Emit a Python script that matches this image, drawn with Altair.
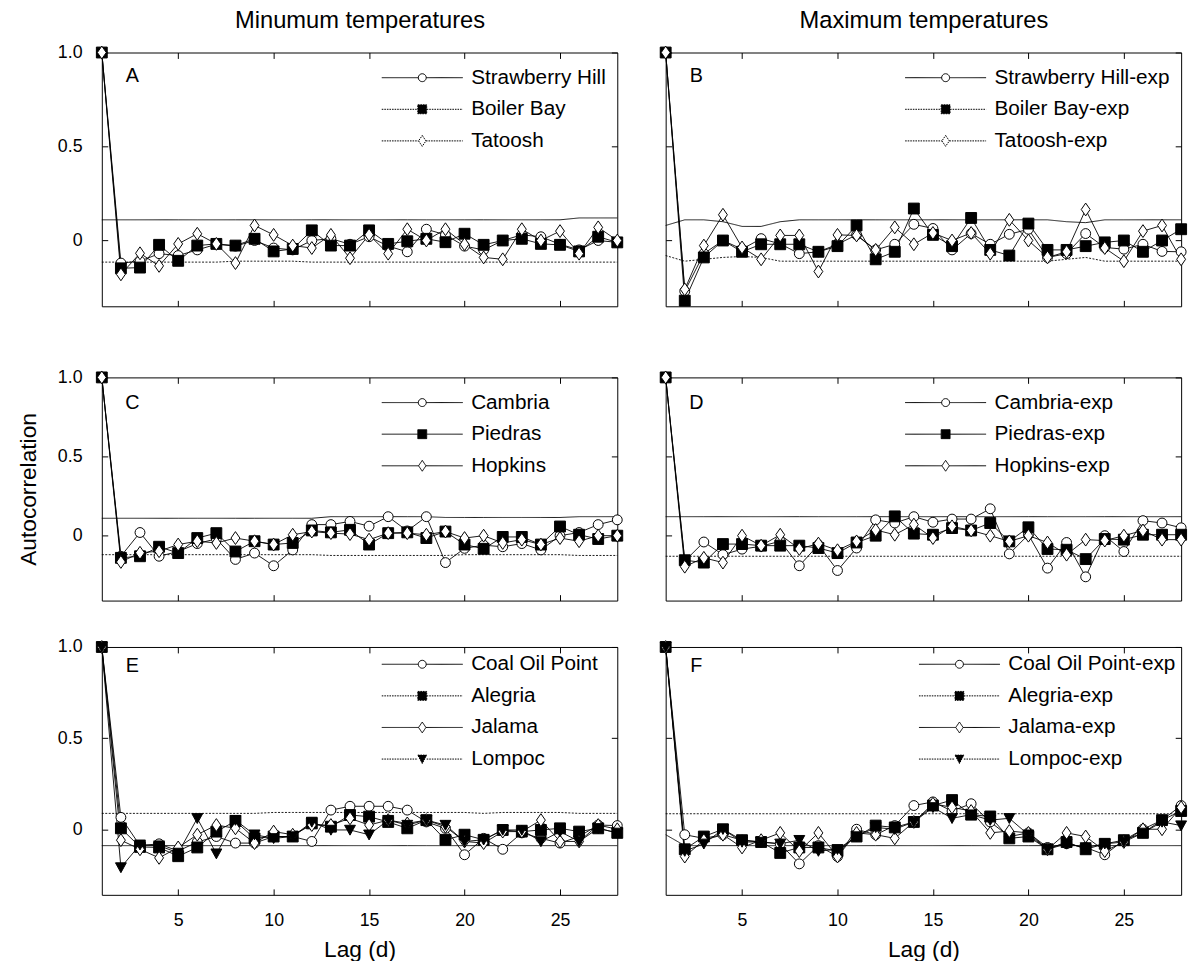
import altair as alt
import pandas as pd

FONT = "Liberation Sans"

LAGS = list(range(1, 29))
X_TICKS = [5, 10, 15, 20, 25]
Y_TICKS = [0, 0.5, 1.0]

COLUMN_TITLES = ["Minumum temperatures", "Maximum temperatures"]
Y_TITLE = "Autocorrelation"
X_TITLE = "Lag (d)"

# ---------------- Panel A : minimum temperatures, Oregon/Washington
A_NAMES = ["Strawberry Hill", "Boiler Bay", "Tatoosh"]
A_STRAWBERRY = [1.0, -0.12, -0.11, -0.07, -0.08, -0.05, -0.02, -0.03, 0.0, -0.04, -0.05, 0.0, 0.01, -0.02,
                0.02, -0.03, -0.06, 0.06, 0.03, -0.03, -0.05, 0.0, 0.03, 0.02, -0.02, -0.05, 0.0, -0.01]
A_BOILER = [1.0, -0.148, -0.144, -0.023, -0.108, -0.027, -0.018, -0.027, 0.009, -0.058, -0.045, 0.054, -0.027, -0.027,
            0.054, -0.018, -0.004, 0.009, -0.009, 0.036, -0.023, 0.0, 0.009, -0.018, -0.023, -0.058, 0.02, -0.01]
A_TATOOSH = [1.0, -0.18, -0.068, -0.135, -0.018, 0.036, -0.018, -0.12, 0.08, 0.03, -0.027, -0.04, 0.03, -0.094,
             0.03, -0.07, 0.06, 0.0, 0.06, -0.02, -0.09, -0.1, 0.06, 0.0, 0.05, -0.07, 0.07, 0.0]
A_UPPER = [0.11] * 25 + [0.12] * 3
A_LOWER = [-0.115] * 7 + [-0.11] * 4 + [-0.115] * 17

# ---------------- Panel B : maximum temperatures
B_NAMES = ["Strawberry Hill-exp", "Boiler Bay-exp", "Tatoosh-exp"]
B_STRAWBERRY = [1.0, -0.27, -0.07, 0.0, -0.046, 0.01, -0.018, -0.07, -0.06, -0.02, 0.03, -0.05, -0.02, 0.086,
                0.064, -0.05, 0.037, -0.02, 0.033, 0.06, -0.09, -0.07, 0.037, -0.037, -0.046, -0.02, -0.058, -0.06]
B_BOILER = [1.0, -0.32, -0.09, 0.0, -0.06, -0.02, -0.02, -0.02, -0.06, -0.03, 0.08, -0.10, -0.06, 0.17,
            0.03, -0.03, 0.12, -0.05, -0.08, 0.09, -0.05, -0.05, -0.03, -0.01, 0.0, -0.06, 0.0, 0.06]
B_TATOOSH = [1.0, -0.26, -0.027, 0.137, -0.037, -0.10, 0.027, 0.027, -0.165, 0.03, 0.027, -0.05, 0.07, -0.02,
             0.04, 0.0, 0.04, -0.07, 0.11, 0.0, -0.09, -0.06, 0.165, -0.04, -0.11, 0.05, 0.08, -0.10]
B_UPPER = [0.08, 0.11, 0.11, 0.10, 0.075, 0.075, 0.10] + [0.11] * 14 + [0.10, 0.095] + [0.11] * 5
B_LOWER = [-0.08, -0.11, -0.10, -0.09, -0.085, -0.09] + [-0.11] * 15 + [-0.10, -0.09] + [-0.11] * 5

# ---------------- Panel C : minimum temperatures, central California
C_NAMES = ["Cambria", "Piedras", "Hopkins"]
C_CAMBRIA = [1.0, -0.13, 0.02, -0.13, -0.10, -0.05, -0.02, -0.15, -0.11, -0.19, -0.09, 0.07, 0.07, 0.09,
             0.06, 0.12, 0.03, 0.12, -0.17, -0.08, -0.06, -0.07, -0.05, -0.09, 0.0, 0.02, 0.07, 0.10]
C_PIEDRAS = [1.0, -0.14, -0.13, -0.07, -0.11, -0.015, 0.016, -0.10, -0.035, -0.056, -0.046, 0.033, 0.021, 0.037,
             -0.056, 0.016, 0.021, -0.015, 0.026, -0.056, -0.083, -0.008, -0.008, -0.056, 0.058, 0.006, -0.021, 0.0]
C_HOPKINS = [1.0, -0.166, -0.108, -0.098, -0.056, -0.035, -0.046, -0.015, -0.035, -0.056, 0.006, 0.026, 0.016, 0.01,
             -0.025, 0.016, 0.016, 0.006, 0.026, -0.015, 0.0, -0.046, -0.025, -0.056, -0.015, -0.035, 0.0, 0.0]
C_UPPER = [0.11] * 12 + [0.12] * 6 + [0.115] * 7 + [0.12] * 3
C_LOWER = [-0.12] * 12 + [-0.125] * 7 + [-0.12] * 6 + [-0.125] * 3

# ---------------- Panel D : maximum temperatures
D_NAMES = ["Cambria-exp", "Piedras-exp", "Hopkins-exp"]
D_CAMBRIA = [1.0, -0.16, -0.04, -0.12, -0.085, -0.067, -0.035, -0.19, -0.058, -0.22, -0.078, 0.10, 0.08, 0.12,
             0.085, 0.105, 0.105, 0.17, -0.115, 0.006, -0.205, -0.043, -0.26, 0.0, -0.10, 0.095, 0.08, 0.05]
D_PIEDRAS = [1.0, -0.155, -0.17, -0.053, -0.053, -0.063, -0.063, -0.063, -0.078, -0.11, -0.043, 0.0, 0.122, 0.013,
             0.006, 0.048, 0.033, 0.08, -0.036, 0.053, -0.084, -0.089, -0.148, -0.021, -0.025, 0.006, 0.006, 0.006]
D_HOPKINS = [1.0, -0.196, -0.14, -0.17, 0.0, -0.063, 0.006, -0.084, -0.05, -0.092, -0.036, 0.036, 0.006, 0.07,
             -0.015, 0.059, 0.033, 0.0, -0.036, 0.0, -0.043, -0.12, -0.025, -0.031, 0.0, 0.033, -0.025, -0.025]
D_UPPER = [0.12] * 28
D_LOWER = [-0.13] * 28

# ---------------- Panel E : minimum temperatures, southern California
E_NAMES = ["Coal Oil Point", "Alegria", "Jalama", "Lompoc"]
E_COAL = [1.0, 0.065, -0.09, -0.08, -0.12, -0.07, -0.04, -0.076, -0.076, -0.04, -0.04, -0.067, 0.105, 0.126,
          0.126, 0.126, 0.105, 0.04, 0.005, -0.14, -0.05, -0.11, -0.02, -0.05, -0.076, -0.04, 0.023, 0.02]
E_ALEGRIA = [1.0, 0.005, -0.097, -0.10, -0.148, -0.10, -0.013, 0.045, -0.05, -0.04, -0.04, 0.032, 0.014, 0.078,
             0.069, 0.04, 0.005, 0.05, -0.058, -0.03, -0.058, -0.004, -0.013, -0.004, 0.005, -0.013, 0.005, -0.02]
E_JALAMA = [1.0, -0.06, -0.11, -0.157, -0.10, -0.03, 0.023, 0.005, -0.076, -0.013, -0.03, 0.023, 0.023, 0.06,
            0.023, 0.05, 0.032, 0.05, 0.014, -0.067, -0.076, -0.013, -0.013, 0.05, -0.067, -0.067, 0.023, 0.0]
E_LOMPOC = [1.0, -0.21, -0.085, -0.09, -0.13, 0.06, -0.134, 0.05, -0.03, -0.05, -0.04, 0.04, -0.004, -0.004,
            -0.03, 0.05, 0.023, 0.05, 0.023, -0.067, -0.058, -0.004, -0.004, -0.067, -0.013, -0.067, 0.005, -0.02]
E_UPPER = [0.087] * 9 + [0.092] * 11 + [0.087] + [0.092] * 4 + [0.087] * 3
E_LOWER = [-0.09] * 28

# ---------------- Panel F : maximum temperatures
F_NAMES = ["Coal Oil Point-exp", "Alegria-exp", "Jalama-exp", "Lompoc-exp"]
F_COAL = [1.0, -0.03, -0.05, -0.03, -0.06, -0.07, -0.08, -0.19, -0.09, -0.15, 0.0, -0.03, 0.02, 0.13,
          0.15, 0.10, 0.14, 0.04, -0.04, -0.02, -0.10, -0.08, -0.10, -0.14, -0.06, 0.0, 0.05, 0.13]
F_ALEGRIA = [1.0, -0.11, -0.04, 0.0, -0.06, -0.07, -0.13, -0.10, -0.10, -0.12, -0.04, 0.02, 0.01, 0.04,
             0.13, 0.16, 0.08, 0.07, -0.05, -0.04, -0.11, -0.07, -0.11, -0.08, -0.06, -0.02, 0.05, 0.10]
F_JALAMA = [1.0, -0.15, -0.06, -0.03, -0.10, -0.06, -0.02, -0.12, -0.02, -0.15, -0.02, -0.03, -0.05, 0.04,
            0.14, 0.12, 0.10, -0.02, -0.01, -0.02, -0.11, -0.02, -0.04, -0.12, -0.07, 0.0, 0.0, 0.12]
F_LOMPOC = [1.0, -0.12, -0.08, 0.0, -0.07, -0.07, -0.08, -0.06, -0.12, -0.11, -0.04, 0.01, 0.0, 0.04,
            0.12, 0.06, 0.08, 0.05, 0.06, -0.03, -0.11, -0.08, -0.10, -0.08, -0.07, -0.02, 0.04, 0.02]
F_UPPER = [0.085] * 28
F_LOWER = [-0.03] + [-0.09] * 27

# ---------------- styling tables (markers & line styles)
MARKER_PATHS = {
    "circle": "M1,0A1,1,0,1,1,-1,0A1,1,0,1,1,1,0Z",
    "square": "M-1.1,-1.1H1.1V1.1H-1.1Z",
    "diamond": "M0,-1.3L0.9,0L0,1.3L-0.9,0Z",
    "triangle": "M-1.1,-0.95H1.1L0,1.05Z",
}
LEGEND_PATHS = {
    "circle": "M-8.2,0H-0.8M0.8,0H8.2M0.8,0A0.8,0.8,0,1,1,-0.8,0A0.8,0.8,0,1,1,0.8,0Z",
    "square": "M-8.2,0H-0.9M0.9,0H8.2M-0.9,-0.9H0.9V0.9H-0.9Z",
    "diamond": "M-8.2,0H-0.75M0.75,0H8.2M0,-1.1L0.75,0L0,1.1L-0.75,0Z",
    "triangle": "M-8.2,0H-0.9M0.9,0H8.2M-0.9,-0.8H0.9L0,0.9Z",
}
FILLS = {"circle": "white", "square": "black", "diamond": "white", "triangle": "black"}
SOLID = [1, 0]
DOTTED = [2, 1.5]
LEG_DOT = [1.6, 1.0]

KINDS3 = ["circle", "square", "diamond"]
KINDS4 = ["circle", "square", "diamond", "triangle"]

PANELS = [
    dict(letter="A", names=A_NAMES, series=[A_STRAWBERRY, A_BOILER, A_TATOOSH], kinds=KINDS3,
         legdash=[SOLID, LEG_DOT, LEG_DOT],
         upper=A_UPPER, lower=A_LOWER, dash=[SOLID, DOTTED], ymin=-0.35, height=257, lx=314, ly=15, ty=24),
    dict(letter="B", names=B_NAMES, series=[B_STRAWBERRY, B_BOILER, B_TATOOSH], kinds=KINDS3,
         legdash=[SOLID, LEG_DOT, LEG_DOT],
         upper=B_UPPER, lower=B_LOWER, dash=[SOLID, DOTTED], ymin=-0.35, height=257, lx=273, ly=15, ty=24),
    dict(letter="C", names=C_NAMES, series=[C_CAMBRIA, C_PIEDRAS, C_HOPKINS], kinds=KINDS3,
         legdash=[SOLID, SOLID, SOLID],
         upper=C_UPPER, lower=C_LOWER, dash=[SOLID, DOTTED], ymin=-0.41, height=226, lx=314, ly=15, ty=26),
    dict(letter="D", names=D_NAMES, series=[D_CAMBRIA, D_PIEDRAS, D_HOPKINS], kinds=KINDS3,
         legdash=[SOLID, SOLID, SOLID],
         upper=D_UPPER, lower=D_LOWER, dash=[SOLID, DOTTED], ymin=-0.41, height=226, lx=273, ly=15, ty=26),
    dict(letter="E", names=E_NAMES, series=[E_COAL, E_ALEGRIA, E_JALAMA, E_LOMPOC], kinds=KINDS4,
         legdash=[SOLID, LEG_DOT, SOLID, LEG_DOT],
         upper=E_UPPER, lower=E_LOWER, dash=[DOTTED, SOLID], ymin=-0.36, height=251, lx=314, ly=7, ty=19),
    dict(letter="F", names=F_NAMES, series=[F_COAL, F_ALEGRIA, F_JALAMA, F_LOMPOC], kinds=KINDS4,
         legdash=[SOLID, LEG_DOT, SOLID, LEG_DOT],
         upper=F_UPPER, lower=F_LOWER, dash=[DOTTED, SOLID], ymin=-0.36, height=251, lx=287, ly=7, ty=19),
]

PANEL_W = 522


def build_panel(spec, row, col):
    names, kinds = spec["names"], spec["kinds"]
    recs = []
    for name, vals in zip(names, spec["series"]):
        for lag, v in zip(LAGS, vals):
            recs.append({"lag": lag, "value": v, "series": name})
    df = pd.DataFrame(recs)
    ci_recs = []
    for band, vals in (("upper", spec["upper"]), ("lower", spec["lower"])):
        for lag, v in zip(LAGS, vals):
            ci_recs.append({"lag": lag, "value": v, "band": band})
    ci = pd.DataFrame(ci_recs)

    xs = alt.Scale(domain=[1, 28], nice=False, zero=False)
    ys = alt.Scale(domain=[spec["ymin"], 1.0], nice=False, zero=False)
    is_bottom = row == 2
    is_left = col == 0

    bottom_axis = alt.Axis(orient="bottom", values=X_TICKS, tickSize=6, offset=-6, domain=False,
                           grid=False, labels=is_bottom, labelPadding=17,
                           title=X_TITLE if is_bottom else None, titlePadding=9)
    top_axis = alt.Axis(orient="top", values=X_TICKS, tickSize=6, offset=-6, domain=False,
                        grid=False, labels=False,
                        title=COLUMN_TITLES[col] if row == 0 else None, titlePadding=20, titleFontSize=24)
    left_axis = alt.Axis(orient="left", values=Y_TICKS, tickSize=6, offset=-6, domain=False,
                         grid=False, labels=is_left, labelPadding=20,
                         labelExpr="datum.value == 0 ? '0' : format(datum.value, '.1f')",
                         title=Y_TITLE if (is_left and row == 1) else None, titlePadding=17)
    right_axis = alt.Axis(orient="right", values=Y_TICKS, tickSize=6, offset=-6, domain=False,
                          grid=False, labels=False, title=None)

    ci_layer = alt.Chart(ci).mark_line(color="black", strokeWidth=0.9).encode(
        x=alt.X("lag:Q", scale=xs, axis=top_axis),
        y=alt.Y("value:Q", scale=ys, axis=right_axis),
        detail="band:N",
        strokeDash=alt.StrokeDash("band:N", scale=alt.Scale(domain=["upper", "lower"], range=spec["dash"]),
                                  legend=None),
    )
    line_layer = alt.Chart(df).mark_line(color="black", strokeWidth=0.9).encode(
        x=alt.X("lag:Q", scale=xs, axis=bottom_axis),
        y=alt.Y("value:Q", scale=ys, axis=left_axis),
        detail="series:N",
    )
    point_layer = alt.Chart(df).mark_point(filled=True, stroke="black", strokeWidth=1, size=100, opacity=1).encode(
        x=alt.X("lag:Q", scale=xs, axis=None),
        y=alt.Y("value:Q", scale=ys, axis=None),
        shape=alt.Shape("series:N", scale=alt.Scale(domain=names, range=[MARKER_PATHS[k] for k in kinds]),
                        legend=None),
        fill=alt.Fill("series:N", scale=alt.Scale(domain=names, range=[FILLS[k] for k in kinds]), legend=None),
    )
    leg = alt.Legend(orient="none", legendX=spec["lx"], legendY=spec["ly"], title=None,
                     labelFontSize=21, labelOffset=39, labelLimit=400, rowPadding=10, padding=0,
                     symbolStrokeColor="black", symbolStrokeWidth=1, symbolSize=100, symbolOpacity=1)
    legend_layer = alt.Chart(pd.DataFrame({"series": names})).transform_filter("false").mark_point(
        filled=True, strokeWidth=1, size=100).encode(
        shape=alt.Shape("series:N", scale=alt.Scale(domain=names, range=[LEGEND_PATHS[k] for k in kinds]),
                        legend=leg),
        fill=alt.Fill("series:N", scale=alt.Scale(domain=names, range=[FILLS[k] for k in kinds]), legend=leg),
        stroke=alt.Stroke("series:N", scale=alt.Scale(domain=names, range=["black"] * len(names)), legend=leg),
        strokeDash=alt.StrokeDash("series:N", scale=alt.Scale(domain=names, range=spec["legdash"]), legend=leg),
    )
    letter_layer = alt.Chart(pd.DataFrame({"letter": [spec["letter"]]})).mark_text(
        font=FONT, fontSize=20, align="center", baseline="middle", color="black").encode(
        x=alt.value(31), y=alt.value(spec["ty"]), text="letter:N")

    return alt.layer(ci_layer, line_layer, point_layer, legend_layer, letter_layer).resolve_scale(
        shape="independent", fill="independent", stroke="independent", strokeDash="independent"
    ).resolve_axis(x="independent", y="independent").properties(width=PANEL_W, height=spec["height"])


panels = [build_panel(p, i // 2, i % 2) for i, p in enumerate(PANELS)]

RES = dict(shape="independent", fill="independent", stroke="independent", strokeDash="independent",
           x="independent", y="independent")

row1 = alt.hconcat(panels[0], panels[1], spacing=49, bounds="flush").resolve_scale(**RES)
row2 = alt.hconcat(panels[2], panels[3], spacing=49, bounds="flush").resolve_scale(**RES)
row3 = alt.hconcat(panels[4], panels[5], spacing=49, bounds="flush").resolve_scale(**RES)
lower = alt.vconcat(row2, row3, spacing=36).resolve_scale(**RES)

chart = alt.vconcat(row1, lower, spacing=59).resolve_scale(**RES).properties(
    padding={"left": 9, "top": -6, "right": 3, "bottom": 0}
).configure(font=FONT).configure_view(stroke="black", strokeWidth=1).configure_axis(
    labelFont=FONT, titleFont=FONT, labelFontSize=18, titleFontSize=23, titleFontWeight="normal",
    labelColor="black", titleColor="black", tickColor="black", tickWidth=1
).configure_legend(labelFont=FONT, labelColor="black")

chart.save("out.html", embed_options={"renderer": "svg", "actions": False})
